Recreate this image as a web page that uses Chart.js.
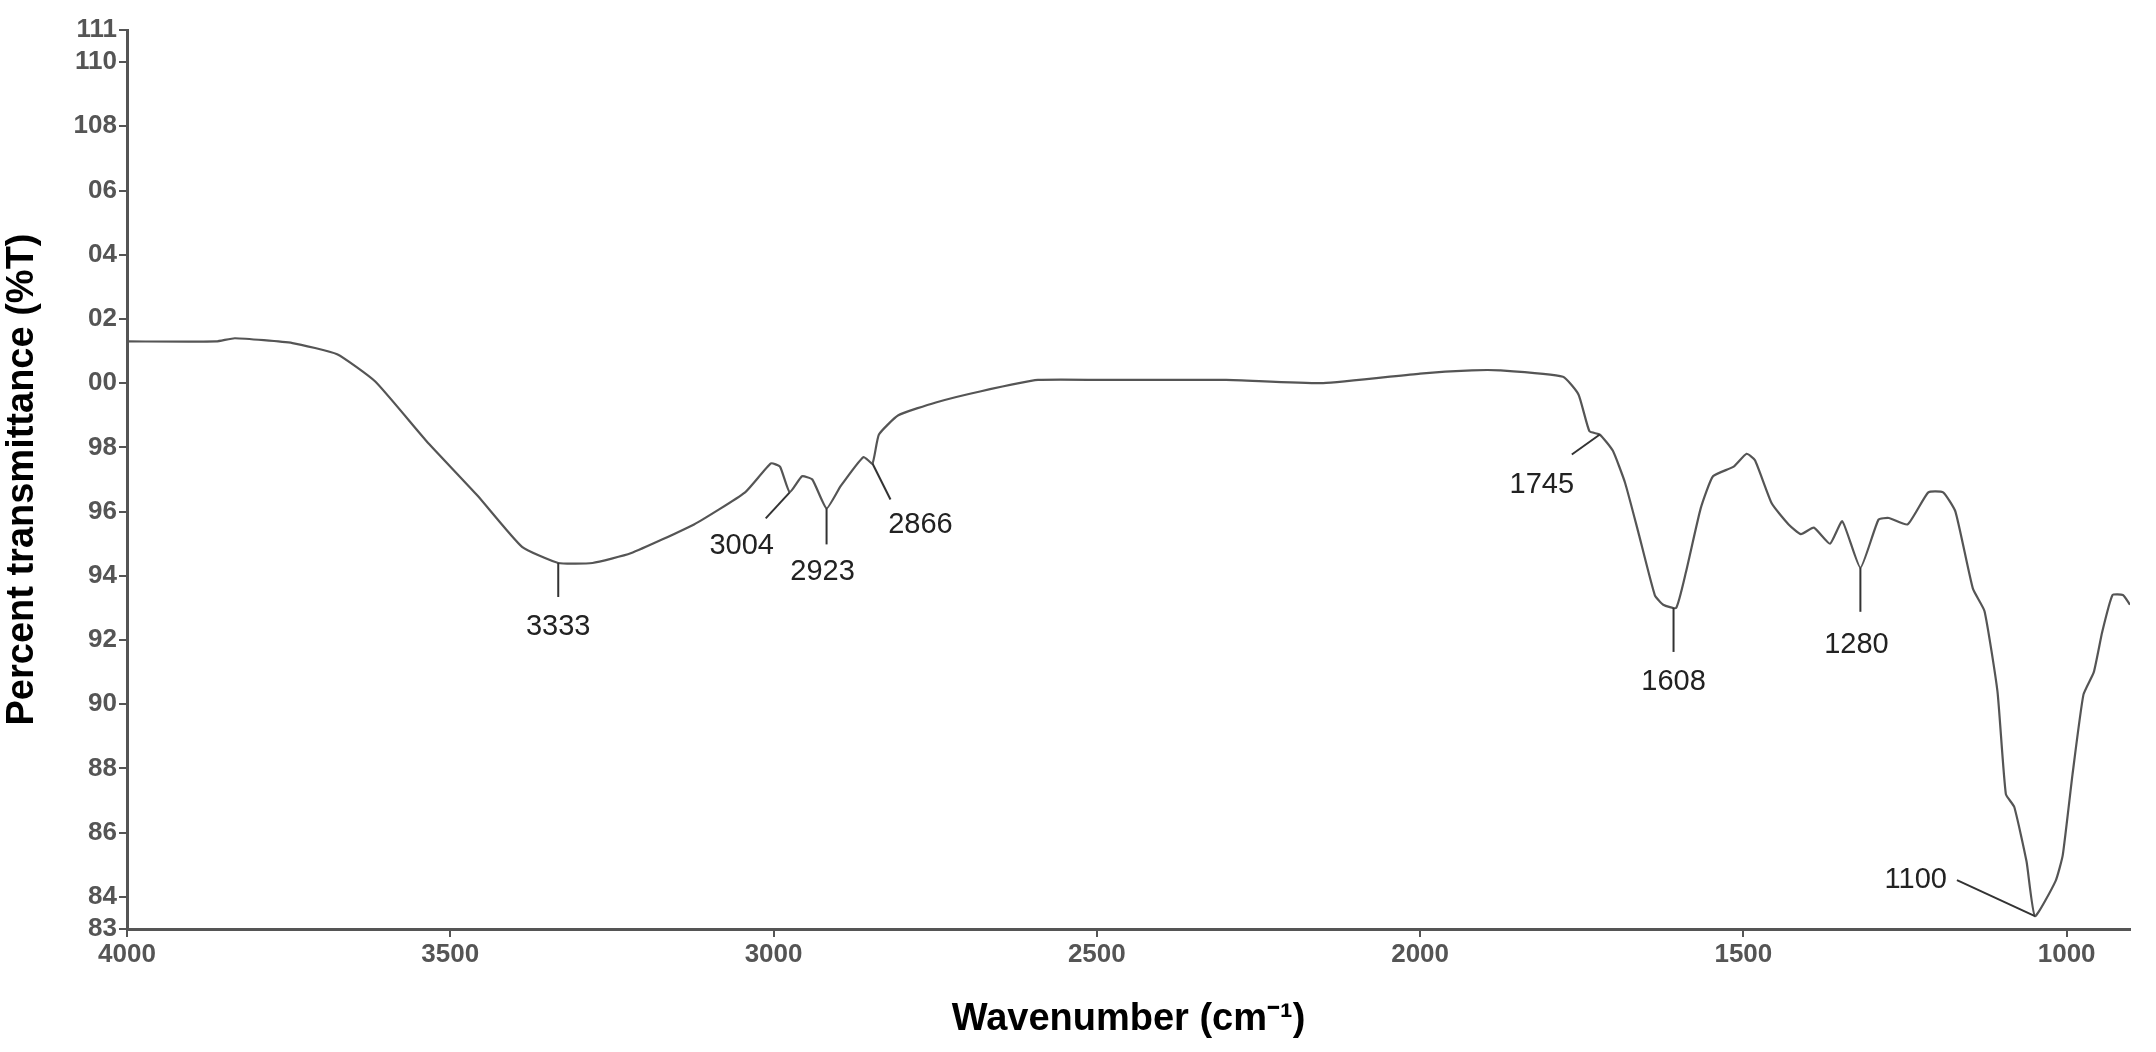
<!DOCTYPE html>
<html>
<head>
<meta charset="utf-8">
<script src="https://cdn.jsdelivr.net/npm/chart.js@4/dist/chart.umd.min.js"></script>
<style>
  body { margin: 0; background: #fff; }
  #wrap { width: 2156px; height: 1052px; }
</style>
</head>
<body>
<div id="wrap"><canvas id="c"></canvas></div>
<script>
// spectrum
const wavenumbers = [4000, 3862, 3833, 3744, 3675, 3616, 3537, 3458, 3389, 3333, 3280, 3221, 3123, 3044,
  3004, 2990, 2975, 2956, 2940, 2918, 2896, 2861, 2847, 2837, 2807, 2749, 2679, 2591, 2472, 2300, 2150,
  2000, 1920, 1877, 1779, 1755, 1738, 1722, 1702, 1683, 1663, 1637, 1624, 1604, 1589, 1566, 1547, 1515,
  1495, 1482, 1456, 1430, 1411, 1391, 1366, 1347, 1319, 1291, 1275, 1246, 1214, 1191, 1172, 1145, 1127,
  1107, 1094, 1081, 1062, 1049, 1017, 1006, 991, 974, 958, 945, 929, 913, 902];
const transmittance = [101.3, 101.3, 101.4, 101.25, 100.9, 100.05, 98.2, 96.5, 94.9, 94.4, 94.4, 94.7, 95.6, 96.6,
  97.5, 97.4, 96.6, 97.1, 97.0, 96.1, 96.8, 97.7, 97.5, 98.4, 99.0, 99.4, 99.75, 100.1, 100.1, 100.1, 100.0,
  100.3, 100.4, 100.4, 100.2, 99.65, 98.5, 98.4, 97.9, 96.9, 95.4, 93.4, 93.1, 93.0, 94.1, 96.1, 97.1, 97.4,
  97.8, 97.6, 96.25, 95.6, 95.3, 95.5, 95.0, 95.7, 94.25, 95.75, 95.8, 95.6, 96.6, 96.6, 96.0, 93.6, 92.9,
  90.4, 87.2, 86.8, 85.1, 83.4, 84.5, 85.3, 87.8, 90.3, 91.0, 92.25, 93.4, 93.4, 93.1];

const yTicks = [83, 84, 86, 88, 90, 92, 94, 96, 98, 100, 102, 104, 106, 108, 110, 111];
const yTickLabels = ['83', '84', '86', '88', '90', '92', '94', '96', '98', '00', '02', '04', '06', '108', '110', '111'];
const xTicks = [4000, 3500, 3000, 2500, 2000, 1500, 1000];

// peak labels: where the leader starts on the curve, and the text
const peakWave = [3333, 2975, 2918, 2847, 1722, 1608, 1319, 1049];
const peakValue = [94.4, 96.6, 96.1, 97.5, 98.4, 93.0, 94.25, 83.4];
const peakText = ['3333', '3004', '2923', '2866', '1745', '1608', '1280', '1100'];

// leader end offset and text offset in px (style only)
const leaderStyle = [
  { lx: 0, ly: 34, tx: 0, ty: 64, align: 'center' },
  { lx: -24, ly: 26, tx: -48, ty: 54, align: 'center' },
  { lx: 0, ly: 36, tx: -4, ty: 64, align: 'center' },
  { lx: 18, ly: 36, tx: 48, ty: 62, align: 'center' },
  { lx: -28, ly: 20, tx: -58, ty: 50, align: 'center' },
  { lx: 0, ly: 44, tx: 0, ty: 74, align: 'center' },
  { lx: 0, ly: 44, tx: -4, ty: 77, align: 'center' },
  { lx: -78, ly: -36, tx: -88, ty: -36, align: 'right' }
];

const peakLabels = {
  id: 'peakLabels',
  afterDatasetsDraw(chart) {
    const { ctx, scales: { x, y } } = chart;
    ctx.save();
    ctx.strokeStyle = '#333';
    ctx.lineWidth = 2;
    ctx.fillStyle = '#222';
    ctx.font = '29px "Liberation Sans", Arial, sans-serif';
    ctx.textBaseline = 'middle';
    peakWave.forEach((w, i) => {
      const s = leaderStyle[i];
      const px = x.getPixelForValue(w);
      const py = y.getPixelForValue(peakValue[i]);
      ctx.beginPath();
      ctx.moveTo(px, py);
      ctx.lineTo(px + s.lx, py + s.ly);
      ctx.stroke();
      ctx.textAlign = s.align;
      ctx.fillText(peakText[i], px + s.tx, py + s.ty);
    });
    ctx.restore();
  }
};

new Chart(document.getElementById('c'), {
  type: 'scatter',
  data: {
    datasets: [{
      data: wavenumbers.map((w, i) => ({ x: w, y: transmittance[i] })),
      showLine: true,
      borderColor: '#555',
      borderWidth: 2.2,
      pointRadius: 0,
      tension: 0.15
    }]
  },
  options: {
    responsive: true,
    maintainAspectRatio: false,
    animation: false,
    layout: { padding: { top: 30, right: 26, left: 0, bottom: 0 } },
    plugins: { legend: { display: false }, tooltip: { enabled: false } },
    scales: {
      x: {
        type: 'linear',
        reverse: true,
        min: 902,
        max: 4000,
        afterBuildTicks: (scale) => { scale.ticks = xTicks.map(v => ({ value: v })); },
        afterFit: (scale) => { scale.height = 123; },
        grid: { drawOnChartArea: false, color: '#555', tickLength: 8, lineWidth: 2 },
        border: { color: '#555', width: 3 },
        ticks: {
          color: '#555',
          font: { family: '"Liberation Sans", Arial, sans-serif', size: 26, weight: 'bold' },
          padding: 2,
          maxRotation: 0,
          callback: (v) => String(v)
        },
        title: {
          display: true,
          text: 'Wavenumber (cm\u207B\u00B9)',
          color: '#000',
          font: { family: '"Liberation Sans", Arial, sans-serif', size: 38, weight: 'bold' },
          padding: { top: 0, bottom: 10 }
        }
      },
      y: {
        min: 83,
        max: 111,
        afterBuildTicks: (scale) => { scale.ticks = yTicks.map(v => ({ value: v })); },
        afterFit: (scale) => { scale.width = 127; },
        grid: { drawOnChartArea: false, color: '#555', tickLength: 8, lineWidth: 2 },
        border: { color: '#555', width: 3 },
        ticks: {
          color: '#555',
          font: { family: '"Liberation Sans", Arial, sans-serif', size: 26, weight: 'bold' },
          padding: 2,
          callback: (v) => yTickLabels[yTicks.indexOf(v)]
        },
        title: {
          display: true,
          text: 'Percent transmittance (%T)',
          color: '#000',
          font: { family: '"Liberation Sans", Arial, sans-serif', size: 38, weight: 'bold' },
          padding: { top: 0, bottom: 0 }
        }
      }
    }
  },
  plugins: [peakLabels]
});
</script>
</body>
</html>
